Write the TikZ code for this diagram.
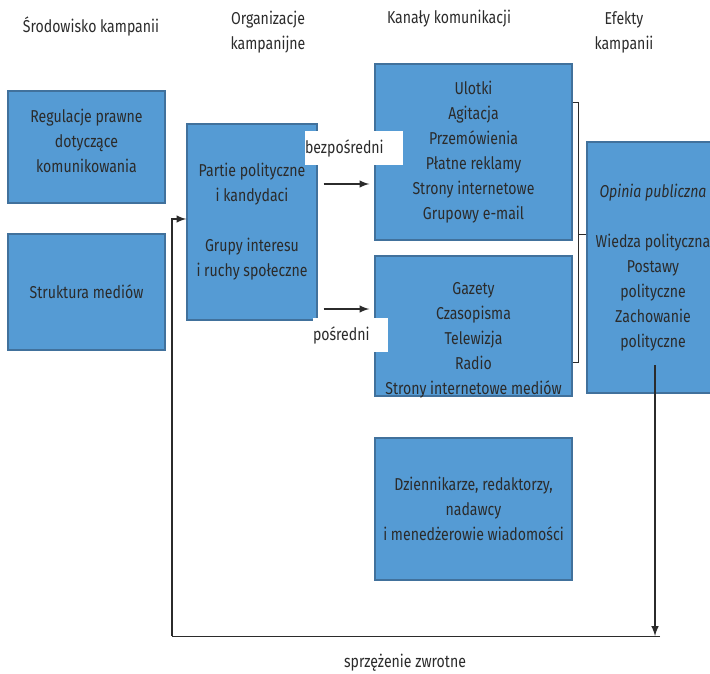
\documentclass[tikz,border=0pt]{standalone}
\usepackage{fontspec}
\setmainfont[FakeStretch=0.82]{Fira Sans}
\definecolor{boxfill}{HTML}{559BD4}
\definecolor{boxline}{HTML}{41719C}
\definecolor{textgray}{HTML}{2B2B2B}
\begin{document}
\begin{tikzpicture}[x=0.5pt, y=-0.5pt,
            every node/.style={font=\fontsize{8.6}{12.5}\selectfont, text=textgray, align=center},
            blockbox/.style={rectangle, draw=boxline, fill=boxfill, line width=0.7pt, inner sep=0pt},
            whitelabel/.style={rectangle, fill=white, inner sep=0pt, minimum height=17pt, text width=#1, align=left},
            flow/.style={-latex, line width=0.7pt, textgray},
        ]
            \useasboundingbox (0,0) rectangle (710,673);

            %Headers
            \node (h1) at (91,27) {Środowisko kampanii};
            \node (h2) at (268,32) {Organizacje\\kampanijne};
            \node (h3) at (449,19) {Kanały komunikacji};
            \node (h4) at (624,32) {Efekty\\kampanii};

            %Nodes
            \node[blockbox, minimum width=78.5pt, minimum height=56pt] (regulacje) at (86.5,147) {};
            \node (regulacjetxt) at ([yshift=3pt]regulacje.center) {Regulacje prawne\\dotyczące\\komunikowania};
            \node[blockbox, minimum width=78.5pt, minimum height=58pt] (struktura) at (86.5,292) {Struktura mediów};

            \node[blockbox, minimum width=65pt, minimum height=98pt] (partie) at (252,222) {Partie polityczne\\i kandydaci\\[12.5pt]Grupy interesu\\i ruchy społeczne};

            \node[blockbox, minimum width=98.5pt, minimum height=88pt] (kanal1) at (473.5,152) {Ulotki\\Agitacja\\Przemówienia\\Płatne reklamy\\Strony internetowe\\Grupowy e-mail};
            \node[blockbox, minimum width=98.5pt, minimum height=70pt] (kanal2) at (473.5,326) {};
            \node (kanal2txt) at ([yshift=-7pt]kanal2.center) {Gazety\\Czasopisma\\Telewizja\\Radio\\Strony internetowe mediów};
            \node[blockbox, minimum width=98.5pt, minimum height=71pt] (kanal3) at (473.5,509) {Dziennikarze, redaktorzy,\\nadawcy\\i menedżerowie wiadomości};

            \node[blockbox, minimum width=66pt, minimum height=125.5pt] (opinia) at (653,267.5) {\textit{Opinia publiczna}\\[12.5pt]Wiedza polityczna\\Postawy\\polityczne\\Zachowanie\\polityczne};

            \node[whitelabel=49pt] (bezp) at (354,148) {bezpośredni};
            \node[whitelabel=37.5pt] (posr) at (350.5,335) {pośredni};

            \node (sprzezenie) at (405,663) {sprzężenie zwrotne};

            %Lines
            \draw[flow] ([xshift=3pt]partie.east |- 0,184) -- ([xshift=-2.5pt]kanal1.west |- 0,184);
            \draw[flow] ([xshift=3pt]partie.east |- 0,309) -- ([xshift=-2.5pt]kanal2.west |- 0,309);

            \coordinate (bracket) at (578,235);
            \draw[line width=0.5pt, textgray] (kanal1.east |- 0,103) -| (bracket) |- (kanal2.east |- 0,362);
            \draw[line width=0.5pt, textgray] (bracket) -- (opinia.west |- bracket);

            \coordinate (fbtop) at (655,365);
            \coordinate (fbdown) at (655,636);
            \coordinate (fbleft) at (172,636);
            \draw[flow] (fbtop) -- (fbdown);
            \draw[line width=0.5pt, textgray] ([xshift=2.5pt]fbdown) -- (fbleft);
            \draw[flow] (fbleft) |- (partie.west |- 0,219);
        \end{tikzpicture}
\end{document}
